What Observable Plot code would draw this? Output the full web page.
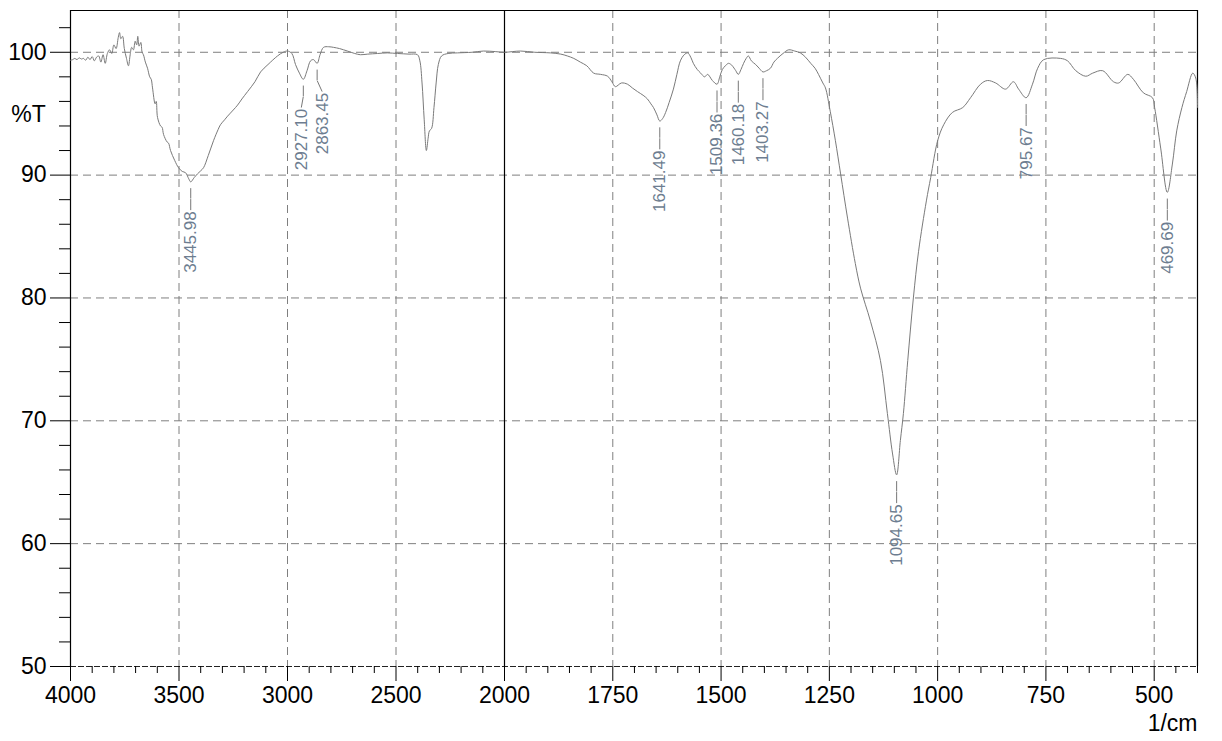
<!DOCTYPE html>
<html>
<head>
<meta charset="utf-8">
<script src="https://cdn.jsdelivr.net/npm/d3@7"></script>
<script src="https://cdn.jsdelivr.net/npm/@observablehq/plot@0.6"></script>
<style>
  html, body { margin: 0; padding: 0; background: #ffffff; }
  #chart svg { display: block; }
</style>
</head>
<body>
<div id="chart"></div>
<script>
// ---- data ----
const wavenumber = [
  4000, 3990, 3980, 3970, 3960, 3950, 3940, 3930, 3920, 3910, 3900, 3890, 3880, 3870, 3860, 3850,
  3840, 3830, 3820, 3810, 3800, 3790, 3780, 3774, 3768, 3760, 3752, 3742, 3733, 3725, 3718, 3710,
  3702, 3695, 3690, 3684, 3676, 3670, 3664, 3655, 3645, 3635, 3628, 3622, 3610, 3605, 3599, 3585,
  3578, 3571, 3555, 3548, 3539, 3520, 3502, 3485, 3470, 3455, 3445.98, 3430, 3415, 3400,
  3387, 3365, 3341, 3320, 3309, 3290, 3276, 3250, 3230, 3210, 3184, 3150, 3124, 3090, 3046, 3020,
  3000, 2980, 2963, 2945, 2927.10, 2910, 2894, 2880, 2863.45, 2850, 2834, 2810, 2788, 2760, 2724, 2690,
  2664, 2630, 2585, 2540, 2493, 2440, 2401, 2390, 2380, 2370, 2360, 2352, 2346, 2336, 2325, 2315,
  2305, 2290, 2260, 2217, 2150, 2097, 2040, 2000,
  1963, 1930, 1894, 1870, 1855, 1840, 1825, 1810, 1794, 1778, 1762, 1752, 1744, 1730, 1716, 1705,
  1693, 1680, 1670, 1662, 1656, 1648, 1641.49, 1635, 1628, 1620, 1610, 1602, 1594, 1585, 1577, 1570,
  1564, 1555, 1547, 1538, 1531, 1520, 1509.36, 1503, 1497, 1490, 1483, 1477, 1474, 1466, 1460.18, 1454,
  1448, 1442, 1437, 1430, 1420, 1412, 1403.27, 1395, 1386, 1378, 1370, 1357, 1344, 1330, 1317, 1305,
  1293, 1283, 1275, 1265, 1259, 1248, 1236, 1224, 1208, 1190, 1178, 1155, 1132, 1116, 1104, 1094.65,
  1086, 1079, 1069, 1056, 1044, 1026, 1016, 1000, 986, 966, 942, 924, 901, 885, 866, 843,
  825, 813, 795.67, 781, 769, 755, 716, 700, 681, 658, 642, 619, 594, 582, 561, 548,
  525, 504, 499, 485, 469.69, 458, 448, 436, 425, 411, 404, 400
];
const transmittance = [
  99.35, 99.4, 99.5, 99.4, 99.55, 99.45, 99.5, 99.35, 99.6, 99.4, 99.65, 99.3, 99.6, 99.7, 99.2, 99.8,
  99.1, 99.9, 100.2, 99.9, 100.6, 100.3, 101.2, 101.6, 101.1, 101.3, 100.3, 99.5, 98.9, 99.8, 100.4, 100.2,
  100.9, 100.6, 101.3, 100.5, 100.8, 100.0, 99.8, 99.2, 98.7, 98.0, 97.8, 97.1, 95.8, 96.0, 94.7, 94.0,
  93.9, 93.3, 92.7, 92.6, 92.0, 91.2, 90.6, 90.3, 90.2, 89.7, 89.45, 89.8, 90.1, 90.35,
  90.6, 91.6, 92.8, 93.7, 94.1, 94.5, 94.8, 95.3, 95.7, 96.2, 96.8, 97.6, 98.4, 99.0, 99.7, 100.0,
  100.1, 99.9, 99.0, 98.3, 97.8, 98.5, 99.3, 99.4, 99.1, 99.8, 100.4, 100.45, 100.4, 100.3, 100.1, 99.9,
  99.8, 99.85, 99.9, 99.95, 99.9, 99.85, 99.8, 99.3, 97.5, 94.5, 92.0, 93.0, 93.6, 93.8, 95.5, 97.5,
  99.0, 99.7, 99.9, 99.95, 100.0, 100.1, 100.05, 100.0,
  100.1, 100.0, 99.95, 99.85, 99.7, 99.5, 99.2, 98.9, 98.3, 98.2, 98.05, 97.6, 97.2, 97.5, 97.4, 97.1,
  96.8, 96.5, 96.2, 95.8, 95.5, 94.9, 94.4, 94.6, 95.1, 95.9, 97.0, 98.2, 99.3, 99.8, 99.95, 99.6,
  99.1, 98.6, 98.3, 98.0, 98.2, 97.7, 97.4, 98.0, 98.6, 98.9, 99.1, 99.0, 98.9, 98.5, 98.2, 98.6,
  99.1, 99.5, 99.7, 99.3, 99.0, 98.7, 98.4, 98.5, 98.7, 99.2, 99.5, 99.9, 100.2, 100.1, 99.95, 99.6,
  99.1, 98.7, 98.2, 97.5, 97.1, 95.2, 92.8, 90.1, 86.5, 82.8, 80.8, 78.1, 74.9, 70.6, 67.3, 65.6,
  68.4, 70.6, 74.9, 80.0, 83.8, 87.9, 89.8, 92.8, 94.1, 95.1, 95.5, 96.3, 97.4, 97.7, 97.5, 97.0,
  97.6, 97.0, 96.3, 97.4, 98.7, 99.4, 99.5, 99.3, 98.5, 98.05, 98.3, 98.5, 97.6, 97.5, 98.2, 97.8,
  96.7, 96.3, 95.5, 92.2, 88.6, 90.9, 93.6, 95.5, 96.8, 98.3, 97.9, 95.5
];
const peakLabels = ["3445.98", "2927.10", "2863.45", "1641.49", "1509.36", "1460.18", "1403.27", "1094.65", "795.67", "469.69"];
const peakT = [89.45, 97.8, 99.1, 94.4, 97.4, 98.2, 98.4, 65.6, 96.3, 88.6];
const xMajorTicks = [4000, 3500, 3000, 2500, 2000, 1750, 1500, 1250, 1000, 750, 500];
const yMajorTicks = [50, 60, 70, 80, 90, 100];
const yLabel = "%T";
const xLabel = "1/cm";

// ---- build tables ----
const spectrum = wavenumber.map((w, i) => ({wn: w, t: transmittance[i]}));
const peaks = peakLabels.map((s, i) => ({label: s, wn: +s, t: peakT[i]}));
const xMinor = d3.range(3900, 2000, -100).concat(d3.range(1950, 350, -50)).filter(v => !xMajorTicks.includes(v));
const yMinor = d3.range(52, 103, 2).filter(v => !yMajorTicks.includes(v));

// pixel nudges for the two crowded labels (converted to wavenumbers on the 4000–2000 segment)
const pxPerCmLeft = (504 - 70) / 2000;
const nudgePx = {"2927.10": -2, "2863.45": 5};
peaks.forEach(p => { p.lx = p.wn - (nudgePx[p.label] || 0) / pxPerCmLeft; });

const gridX = xMajorTicks.filter(v => v !== 4000 && v !== 2000);
const gridY = yMajorTicks.filter(v => v !== 50);
const font = "'Liberation Sans', Arial, sans-serif";
const labelColor = "#6d7d90";

const chart = Plot.plot({
  width: 1222,
  height: 741,
  marginLeft: 70,
  marginRight: 25,
  marginTop: 10,
  marginBottom: 75,
  style: {fontFamily: font, background: "#ffffff", color: "#000000"},
  x: {type: "linear", domain: [4000, 2000, 400], range: [70, 504, 1197]},
  y: {domain: [50, 103.4]},
  marks: [
    // grid
    Plot.ruleY(gridY, {stroke: "#7f7f7f", strokeWidth: 1, strokeDasharray: "8,5"}),
    Plot.ruleX(gridX, {stroke: "#7f7f7f", strokeWidth: 1, strokeDasharray: "8,5"}),
    // frame
    Plot.ruleY([50], {stroke: "#222", strokeWidth: 1, strokeDasharray: "6,2"}),
    Plot.ruleY([103.4], {stroke: "#000", strokeWidth: 1.2}),
    Plot.ruleX([4000, 2000, 400], {stroke: "#000", strokeWidth: 1.2}),
    // axes
    Plot.axisX(xMajorTicks, {anchor: "bottom", tickSize: 15, tickPadding: 5, fontSize: 23, label: null, tickFormat: d => String(d)}),
    Plot.axisX(xMinor, {anchor: "bottom", tickSize: 7, label: null, tickFormat: () => ""}),
    Plot.axisY(yMajorTicks, {anchor: "left", tickSize: 20, tickPadding: 4, fontSize: 23, label: null, tickFormat: d => String(d)}),
    Plot.axisY(yMinor, {anchor: "left", tickSize: 11, label: null, tickFormat: () => ""}),
    Plot.text([yLabel], {x: 4000, y: 94.9, dx: -42, text: d => d, fontSize: 23, textAnchor: "middle"}),
    Plot.text([xLabel], {x: 400, y: 50, dy: 57, text: d => d, fontSize: 23, textAnchor: "end"}),
    // spectrum
    Plot.line(spectrum, {x: "wn", y: "t", stroke: "#7a7a7a", strokeWidth: 1, curve: "catmull-rom"}),
    // peak leaders and labels
    Plot.ruleX(peaks, {x: "wn", y1: d => d.t - 0.55, y2: d => d.t - 1.4, stroke: "#777777", strokeWidth: 1}),
    Plot.link(peaks, {x1: "wn", y1: d => d.t - 1.4, x2: "lx", y2: d => d.t - 2.3, stroke: "#777777", strokeWidth: 1}),
    Plot.text(peaks, {x: "lx", y: d => d.t - 2.4, text: "label", rotate: -90, textAnchor: "end", fontSize: 17, fill: labelColor})
  ]
});
document.getElementById("chart").appendChild(chart);
</script>
</body>
</html>
